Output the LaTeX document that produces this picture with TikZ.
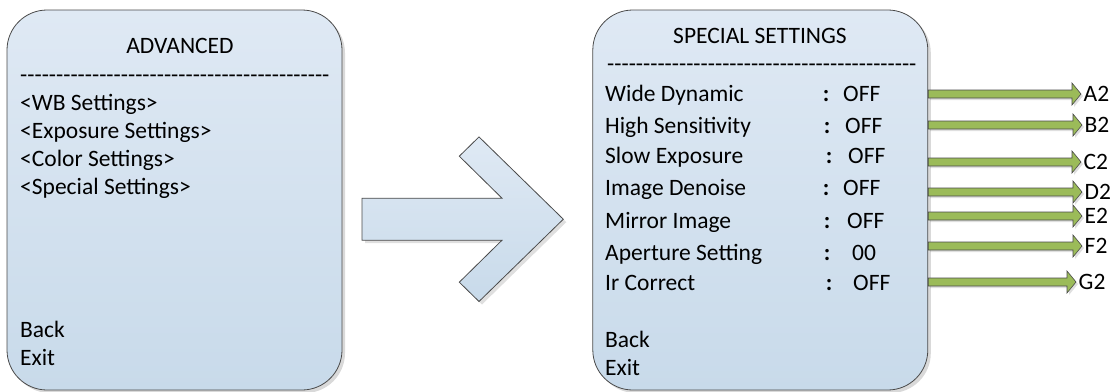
\documentclass[tikz,border=0pt]{standalone}
\usepackage{fontspec}
\setmainfont{Carlito}
\usetikzlibrary{calc,shadows}
\definecolor{paneltop}{HTML}{DFE9F4}
\definecolor{panelbottom}{HTML}{C8DAEA}
\definecolor{edgegray}{HTML}{4A4A4A}
\definecolor{olive}{HTML}{9BBB59}
\newcommand{\dashrow}{\foreach \i in {1,...,43}{-\kern0pt}}

\begin{document}
\begin{tikzpicture}[x=1pt,y=-1pt,
    panel/.style={draw=edgegray,line width=0.8pt,rounded corners=40pt,
      top color=paneltop,bottom color=panelbottom,
      drop shadow={shadow xshift=3pt,shadow yshift=-3pt,opacity=0.3}},
    menutext/.style={font=\fontsize{23.5}{28}\selectfont,inner sep=0pt},
    tag/.style={font=\fontsize{23.5}{28}\selectfont,inner sep=2.5pt,anchor=west},
    feed/.style={draw=edgegray,line width=0.6pt,fill=olive,
      drop shadow={shadow xshift=2pt,shadow yshift=-2pt,opacity=0.25}},
    bigarrow/.style={draw=edgegray,line width=0.8pt,top color=paneltop,bottom color=panelbottom,
      drop shadow={shadow xshift=3pt,shadow yshift=-3pt,opacity=0.25}}]
    % page = reference size in px
    \useasboundingbox (0,0) rectangle (1116,391);

    % ADVANCED menu
    \node[panel,minimum width=335,minimum height=380] (advanced) at (174.5,200) {};
    \node[menutext] (advtitle) at (180,46) {ADVANCED};
    \node[menutext,anchor=base west] (advdash) at (20,82) {\dashrow};
    \foreach \lbl/\yy [count=\i] in {{<WB Settings>}/110,{<Exposure Settings>}/138.5,{<Color Settings>}/166,{<Special Settings>}/194} {
      \node[menutext,anchor=base west] (adv\i) at (20,\yy) {\lbl};
    }
    \node[menutext,anchor=base west] (advback) at (20,337) {Back};
    \node[menutext,anchor=base west] (advexit) at (20,365) {Exit};

    % big arrow between the menus
    \draw[bigarrow] (362,198.2) -- (502,198.2) -- (459.3,156.2) -- (479,136.9) -- (563.3,219.2)
      -- (479,301.5) -- (459.3,282.2) -- (502,240.2) -- (362,240.2) -- cycle;

    % SPECIAL SETTINGS menu
    \node[panel,minimum width=335,minimum height=380] (special) at (760.3,200) {};
    \node[menutext] (spectitle) at (760,36) {SPECIAL SETTINGS};
    \node[menutext,anchor=base west] (specdash) at (607,71) {\dashrow};
    \foreach \name/\val/\yy/\cx/\vx [count=\i] in {
        Wide Dynamic/OFF/101.7/826/843,
        High Sensitivity/OFF/133.3/827/845,
        Slow Exposure/OFF/163.5/829/848,
        Image Denoise/OFF/195/826/843,
        Mirror Image/OFF/228.3/827/847,
        Aperture Setting/00/260/827/852,
        Ir Correct/OFF/290/829/853} {
      \node[menutext,anchor=base west] (row\i) at (605,\yy) {\name};
      \node[menutext,anchor=base] (colon\i) at (\cx,\yy) {\bfseries :};
      \node[menutext,anchor=base west] (val\i) at (\vx,\yy) {\val};
    }
    \node[menutext,anchor=base west] (specback) at (605,347.5) {Back};
    \node[menutext,anchor=base west] (specexit) at (605,375.5) {Exit};

    % green feed arrows to the tags
    \foreach \yy/\tip/\lbl in {94/1081/A2,125/1082/B2,162/1081/C2,192/1082/D2,216/1082/E2,246/1082/F2,282/1076/G2} {
      \node[tag] (tag\lbl) at (\tip,\yy) {\lbl};
      \draw[feed] (tag\lbl.west) -- ++(-9,-11) -- ++(0,7) -- ($(special.east |- tag\lbl.west)+(0,-4)$)
        -- ++(0,8) -- ($(tag\lbl.west)+(-9,4)$) -- ++(0,7) -- cycle;
    }
  \end{tikzpicture}
\end{document}
